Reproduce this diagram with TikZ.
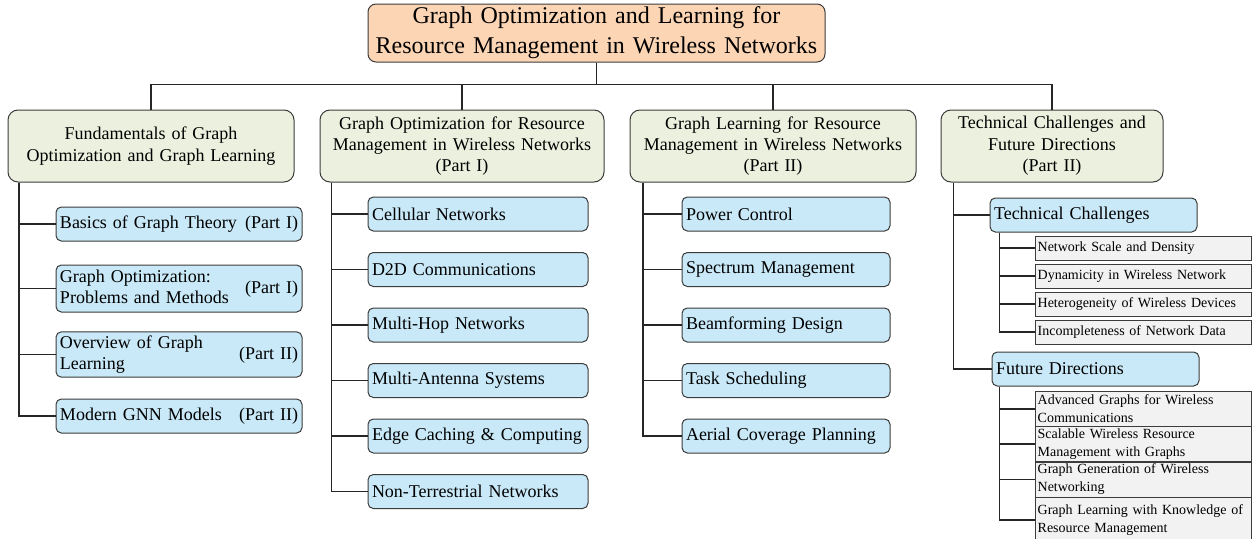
\documentclass[tikz,border=0pt]{standalone}
\usepackage{fontspec}
\setmainfont{Liberation Serif}

\definecolor{rootfill}{HTML}{FCD5B5}
\definecolor{partfill}{HTML}{EBF1DE}
\definecolor{topicfill}{HTML}{C9E9F8}
\definecolor{itemfill}{HTML}{F2F2F2}
\definecolor{edgegray}{HTML}{3C3C3C}

\tikzset{
    box/.style={draw=edgegray, line width=0.75pt, inner xsep=3pt, inner ysep=1pt},
    rootbox/.style={box, fill=rootfill, rounded corners=6pt, align=center,
        font=\fontsize{18}{22.5}\selectfont},
    partbox/.style={box, fill=partfill, rounded corners=7.5pt, align=center,
        font=\fontsize{13.5}{16}\selectfont},
    topicbox/.style={box, fill=topicfill, rounded corners=4pt, align=left,
        font=\fontsize{13.5}{16}\selectfont},
    itembox/.style={box, fill=itemfill, inner xsep=2pt, align=left,
        font=\fontsize{10.5}{13.5}\selectfont},
    link/.style={draw=black!85, line width=1pt}
}

% text on the left, part tag on the right
\newcommand{\withpart}[2]{\begin{tabular}{@{}l@{}}#1\end{tabular}\hfill#2}

\begin{document}
\begin{tikzpicture}[x=0.75pt,y=-0.75pt]

    \useasboundingbox (0,0) rectangle (1258,539);

    % Root
    \node[rootbox, text width=336.75pt, minimum height=43.5pt] (root) at (596.5,33)
        {Graph Optimization and Learning for\\Resource Management in Wireless Networks};

    % Parts
    \node[partbox, text width=208.5pt, minimum height=54pt] (p1) at (151,146)
        {Fundamentals of Graph\\Optimization and Graph Learning};
    \node[partbox, text width=207pt, minimum height=54pt] (p2) at (462,146)
        {Graph Optimization for Resource\\Management in Wireless Networks\\(Part I)};
    \node[partbox, text width=208.5pt, minimum height=54pt] (p3) at (773,146)
        {Graph Learning for Resource\\Management in Wireless Networks\\(Part II)};
    \node[partbox, text width=160.5pt, minimum height=54pt] (p4) at (1052,146)
        {Technical Challenges and\\Future Directions\\(Part II)};

    \foreach \p in {p1,p2,p3,p4}{
        \draw[link] (root.south) -- ++(0,22) -| (\p.north);
    }

    % Fundamentals
    \node[topicbox, text width=178.5pt, minimum height=25.5pt] (f1) at (179,224)
        {\withpart{Basics of Graph Theory}{(Part I)}};
    \node[topicbox, text width=178.5pt, minimum height=35.25pt] (f2) at (179,288.5)
        {\withpart{Graph Optimization:\\Problems and Methods}{(Part I)}};
    \node[topicbox, text width=178.5pt, minimum height=32.25pt] (f3) at (179,354.5)
        {\withpart{Overview of Graph\\Learning}{(Part II)}};
    \node[topicbox, text width=178.5pt, minimum height=25.5pt] (f4) at (179,416)
        {\withpart{Modern GNN Models}{(Part II)}};

    \foreach \n in {f1,f2,f3,f4}{
        \draw[link] ([xshift=8.5pt]p1.south west) |- (\n.west);
    }

    % Graph optimization
    \foreach \i/\y/\t in {
        1/214/Cellular Networks,
        2/269.5/D2D Communications,
        3/325/Multi-Hop Networks,
        4/380.5/Multi-Antenna Systems,
        5/436/Edge Caching \& Computing,
        6/491.5/Non-Terrestrial Networks
    }{
        \node[topicbox, text width=159pt, minimum height=25.5pt] (g\i) at (478,\y) {\t};
        \draw[link] ([xshift=9pt]p2.south west) |- (g\i.west);
    }

    % Graph learning
    \foreach \i/\y/\t in {
        1/214/Power Control,
        2/269.5/Spectrum Management,
        3/325/Beamforming Design,
        4/380.5/Task Scheduling,
        5/436/Aerial Coverage Planning
    }{
        \node[topicbox, text width=150pt, minimum height=25.5pt] (l\i) at (786,\y) {\t};
        \draw[link] ([xshift=10pt]p3.south west) |- (l\i.west);
    }

    % Challenges and directions
    \node[topicbox, text width=149.25pt, minimum height=25.5pt] (tc) at (1093.5,215)
        {Technical Challenges};
    \node[topicbox, text width=149.25pt, minimum height=25.5pt] (fd) at (1095.5,369)
        {Future Directions};

    \foreach \n in {tc,fd}{
        \draw[link] ([xshift=9.5pt]p4.south west) |- (\n.west);
    }

    \foreach \i/\y/\t in {
        1/248/Network Scale and Density,
        2/276/Dynamicity in Wireless Network,
        3/304/Heterogeneity of Wireless Devices,
        4/332/Incompleteness of Network Data
    }{
        \node[itembox, text width=158pt, minimum height=18pt] (c\i) at (1143,\y) {\t};
        \draw[link] ([xshift=7.5pt]tc.south west) |- (c\i.west);
    }

    \foreach \i/\y/\t in {
        1/409/{Advanced Graphs for Wireless\\Communications},
        2/444/{Scalable Wireless Resource\\Management with Graphs},
        3/479.5/{Graph Generation of Wireless\\Networking}
    }{
        \node[itembox, text width=158pt, minimum height=26.25pt] (d\i) at (1143,\y) {\t};
        \draw[link] ([xshift=6pt]fd.south west) |- (d\i.west);
    }
    \node[itembox, text width=158pt, minimum height=33.75pt, anchor=north] (d4) at (1143,497)
        {Graph Learning with Knowledge of\\Resource Management};
    \draw[link] ([xshift=6pt]fd.south west) |- (d4.west);

\end{tikzpicture}
\end{document}
